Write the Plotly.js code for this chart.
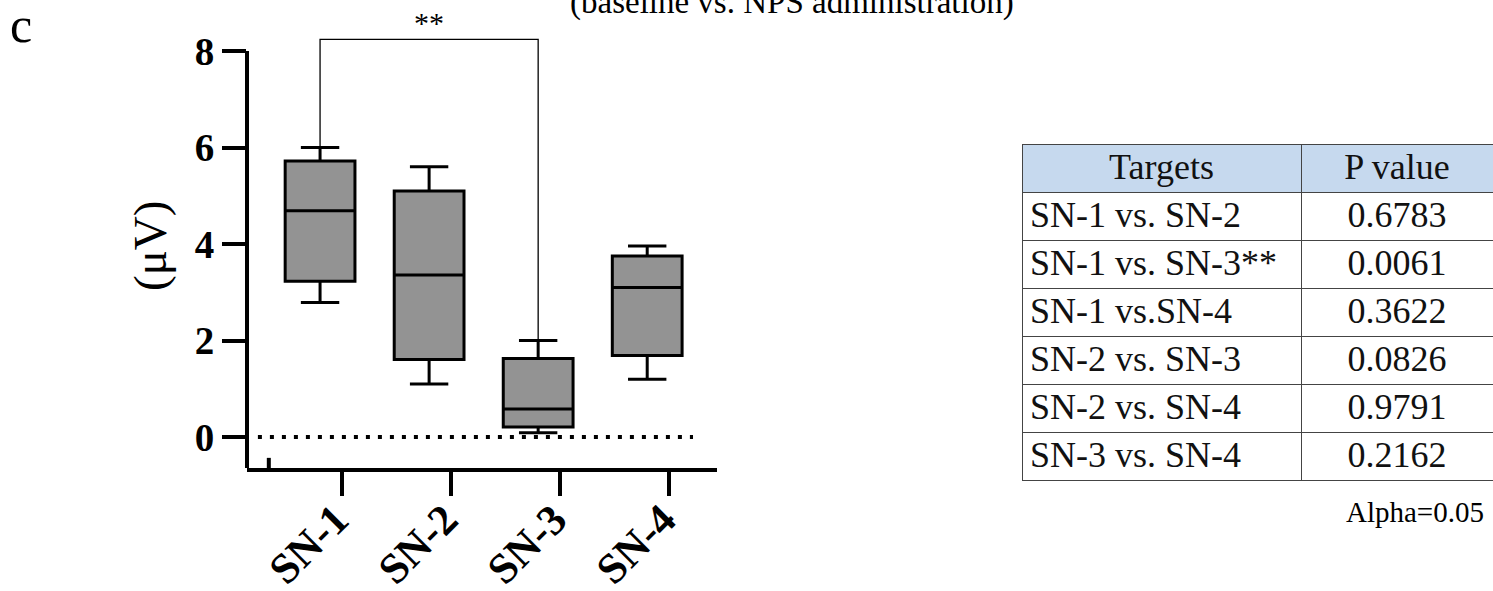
<!DOCTYPE html>
<html>
<head>
<meta charset="utf-8">
<script src="https://cdn.plot.ly/plotly-3.0.1.min.js"></script>
<style>
  html, body { margin: 0; padding: 0; background: #fff; }
  #chart { width: 1493px; height: 591px; }
</style>
</head>
<body>
<div id="chart"></div>
<script>
// ---- data ----
const categories = ['SN-1', 'SN-2', 'SN-3', 'SN-4'];
const lowerWhisker = [2.79, 1.10, 0.09, 1.20];
const q1Values = [3.23, 1.61, 0.21, 1.69];
const medianValues = [4.69, 3.36, 0.58, 3.10];
const q3Values = [5.72, 5.10, 1.63, 3.75];
const upperWhisker = [6.00, 5.60, 2.00, 3.96];
const yTickValues = [0, 2, 4, 6, 8];
const comparisons = ['SN-1 vs. SN-2', 'SN-1 vs. SN-3**', 'SN-1 vs.SN-4', 'SN-2 vs. SN-3', 'SN-2 vs. SN-4', 'SN-3 vs. SN-4'];
const pValues = ['0.6783', '0.0061', '0.3622', '0.0826', '0.9791', '0.2162'];
const tableHeader = ['Targets', 'P value'];
const significance = { from: 1, to: 3, label: '**', level: 8.24 };
const alphaText = 'Alpha=0.05';
const titleText = '(baseline vs. NPS administration)';
const panelLabel = 'c';
const yTitle = '(μV)';

// ---- layout helpers ----
const W = 1493, H = 591;
const positions = categories.map((c, i) => i + 1);
const tickOffset = 0.2;
const xRange = [0.33, 4.64];
const yRange = [-0.64, 8.3];
const xDomain = [247 / W, 717 / W];
const yDomain = [(H - 468) / H, (H - 36.5) / H];
const serif = 'Liberation Serif, Times New Roman, serif';

const boxTrace = {
  type: 'box',
  x: positions,
  q1: q1Values,
  median: medianValues,
  q3: q3Values,
  lowerfence: lowerWhisker,
  upperfence: upperWhisker,
  width: 0.64,
  whiskerwidth: 0.55,
  fillcolor: '#939393',
  line: { color: '#000', width: 3 },
  boxpoints: false,
  hoverinfo: 'skip',
  showlegend: false,
  xaxis: 'x', yaxis: 'y'
};

const tableTrace = {
  type: 'table',
  domain: { x: [1022 / W, 1], y: [0, (H - 144) / H] },
  columnwidth: [279, 192],
  header: {
    values: tableHeader,
    align: 'center',
    fill: { color: '#c6d9ee' },
    line: { color: '#444', width: 1 },
    font: { family: serif, size: 36, color: '#111' },
    height: 48
  },
  cells: {
    values: [comparisons, pValues],
    align: ['left', 'center'],
    fill: { color: '#ffffff' },
    line: { color: '#444', width: 1 },
    font: { family: serif, size: 36, color: '#111' },
    height: 48
  }
};

const shapes = [
  // y axis line (stops at top tick)
  { type: 'line', xref: 'paper', yref: 'y', x0: xDomain[0], x1: xDomain[0],
    y0: yRange[0], y1: yTickValues[yTickValues.length - 1], line: { color: '#000', width: 4 } },
  // small stub tick on the x axis
  { type: 'line', xref: 'x', yref: 'y', x0: 0.53, x1: 0.53, y0: yRange[0], y1: yRange[0] + 0.21,
    line: { color: '#000', width: 4 } },
  // dotted zero line
  { type: 'line', xref: 'x', yref: 'y', x0: 0.43, x1: 4.42, y0: 0, y1: 0,
    line: { color: '#000', width: 4, dash: '4px,8px' } },
  // significance bracket
  { type: 'path', xref: 'x', yref: 'y',
    path: 'M' + significance.from + ',' + upperWhisker[significance.from - 1] +
          ' L' + significance.from + ',' + significance.level +
          ' L' + significance.to + ',' + significance.level +
          ' L' + significance.to + ',' + upperWhisker[significance.to - 1],
    line: { color: '#000', width: 1.3 } }
];

const annotations = [
  { xref: 'x', yref: 'y', x: (significance.from + significance.to) / 2, y: significance.level,
    yanchor: 'bottom', text: significance.label, showarrow: false, yshift: -2,
    font: { family: serif, size: 30, color: '#000' } },
  { xref: 'paper', yref: 'paper', x: 792 / W, y: (H - 23) / H, xanchor: 'center', yanchor: 'bottom',
    text: titleText, showarrow: false, font: { family: serif, size: 33, color: '#000' } },
  { xref: 'paper', yref: 'paper', x: 8 / W, y: (H - 25) / H, xanchor: 'left', yanchor: 'middle',
    text: panelLabel, showarrow: false, font: { family: serif, size: 50, color: '#000' } },
  { xref: 'paper', yref: 'paper', x: 150 / W, y: (H - 246) / H, xanchor: 'center', yanchor: 'middle',
    text: yTitle, textangle: -90, showarrow: false, font: { family: serif, size: 47, color: '#000' } },
  { xref: 'paper', yref: 'paper', x: 1486 / W, y: (H - 512) / H, xanchor: 'right', yanchor: 'middle',
    text: alphaText, showarrow: false, font: { family: serif, size: 29, color: '#000' } }
];

const layout = {
  width: W, height: H,
  margin: { l: 0, r: 0, t: 0, b: 0, pad: 0 },
  paper_bgcolor: '#fff', plot_bgcolor: 'rgba(0,0,0,0)',
  showlegend: false,
  xaxis: {
    domain: xDomain, range: xRange, automargin: false,
    showgrid: false, zeroline: false,
    showline: true, linecolor: '#000', linewidth: 4,
    tickmode: 'array', tickvals: positions.map(p => p + tickOffset), ticktext: categories,
    ticks: 'outside', ticklen: 24, tickwidth: 4, tickcolor: '#000',
    tickangle: -45,
    ticklabelstandoff: -19,
    ticklabelshift: -6,
    tickfont: { family: serif, size: 43, color: '#000', weight: 'bold' }
  },
  yaxis: {
    domain: yDomain, range: yRange, automargin: false,
    showgrid: false, zeroline: false, showline: false,
    tickmode: 'array', tickvals: yTickValues,
    ticks: 'outside', ticklen: 24, tickwidth: 4, tickcolor: '#000',
    tickfont: { family: serif, size: 39, color: '#000', weight: 'bold' }
  },
  shapes: shapes,
  annotations: annotations
};

Plotly.newPlot('chart', [boxTrace, tableTrace], layout, { displayModeBar: false, staticPlot: true });
</script>
</body>
</html>
